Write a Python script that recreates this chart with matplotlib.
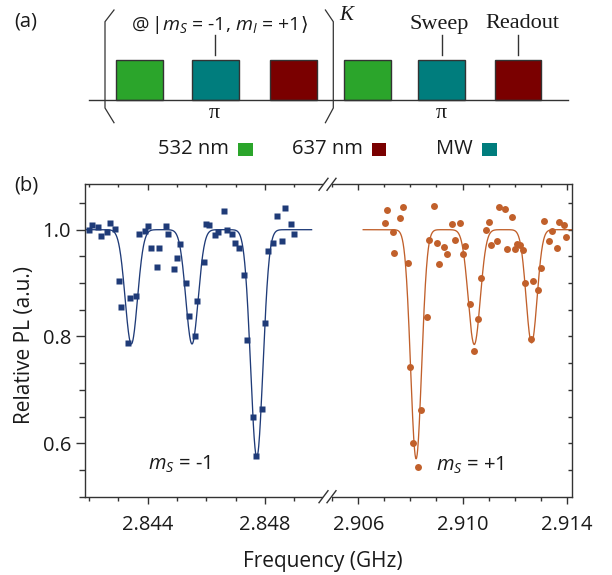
import numpy as np
import matplotlib
matplotlib.use('Agg')
import matplotlib.pyplot as plt
from matplotlib.patches import Rectangle

plt.rcParams['font.family'] = ['Open Sans', 'DejaVu Sans']
plt.rcParams['mathtext.fontset'] = 'custom'
plt.rcParams['mathtext.rm'] = 'Open Sans'
plt.rcParams['mathtext.it'] = 'Open Sans:italic'
plt.rcParams['mathtext.bf'] = 'Open Sans:bold'

# ms = -1 branch (squares)
freq_minus = [2.84199, 2.84210, 2.84231, 2.84242, 2.84261, 2.84270, 2.84289, 2.84301,
              2.84310, 2.84331, 2.84340, 2.84359, 2.84371, 2.84389, 2.84400, 2.84410,
              2.84431, 2.84440, 2.84461, 2.84470, 2.84489, 2.84501, 2.84511, 2.84530,
              2.84540, 2.84560, 2.84569, 2.84591, 2.84599, 2.84610, 2.84629, 2.84640,
              2.84659, 2.84670, 2.84689, 2.84699, 2.84710, 2.84730, 2.84740, 2.84759,
              2.84769, 2.84790, 2.84799, 2.84809, 2.84829, 2.84840, 2.84859, 2.84869,
              2.84889, 2.84899]
pl_minus = [0.999, 1.009, 1.005, 0.988, 0.996, 1.013, 1.002, 0.903,
            0.856, 0.788, 0.872, 0.876, 0.992, 0.997, 1.006, 0.965,
            0.931, 0.965, 1.006, 0.991, 0.927, 0.947, 0.974, 0.900,
            0.838, 0.800, 0.867, 0.940, 1.011, 1.008, 0.990, 0.996,
            1.035, 0.999, 0.992, 0.975, 0.965, 0.915, 0.793, 0.650,
            0.577, 0.664, 0.825, 0.960, 0.975, 1.026, 0.978, 1.040,
            1.011, 0.991]

# ms = +1 branch (circles)
freq_plus = [2.90701, 2.90710, 2.90732, 2.90739, 2.90761, 2.90770, 2.90792, 2.90800,
             2.90810, 2.90831, 2.90841, 2.90862, 2.90870, 2.90889, 2.90902, 2.90911,
             2.90930, 2.90942, 2.90960, 2.90972, 2.90991, 2.91001, 2.91010, 2.91030,
             2.91043, 2.91061, 2.91070, 2.91090, 2.91101, 2.91111, 2.91133, 2.91141,
             2.91164, 2.91169, 2.91191, 2.91203, 2.91210, 2.91222, 2.91232, 2.91241,
             2.91262, 2.91270, 2.91290, 2.91301, 2.91311, 2.91332, 2.91342, 2.91361,
             2.91372, 2.91388, 2.91397]
pl_plus = [1.013, 1.036, 0.995, 0.956, 1.021, 1.043, 0.937, 0.743,
           0.601, 0.556, 0.662, 0.836, 0.981, 1.045, 0.975, 0.936,
           0.967, 0.955, 1.011, 0.981, 1.013, 0.955, 0.970, 0.860,
           0.772, 0.833, 0.910, 1.000, 1.014, 0.972, 0.978, 1.043,
           1.038, 0.964, 1.023, 0.964, 0.973, 0.971, 0.962, 0.901,
           0.796, 0.904, 0.888, 0.928, 1.017, 0.979, 0.997, 0.966,
           1.014, 1.009, 0.986]

# fitted hyperfine dips: centre (GHz), depth, gaussian width (GHz)
fit_minus_center = [2.84344, 2.84551, 2.84772]
fit_minus_depth = [0.214, 0.214, 0.426]
fit_minus_sigma = [0.00021, 0.00021, 0.00021]
fit_plus_center = [2.90822, 2.91045, 2.91265]
fit_plus_depth = [0.429, 0.215, 0.212]
fit_plus_sigma = [0.00021, 0.00023, 0.00021]

xticks_minus = [2.844, 2.848]
xticks_plus = [2.906, 2.910, 2.914]
yticks = [0.6, 0.8, 1.0]

BLUE = '#1f3b78'
ORANGE = '#c1602b'
GREEN = '#2ba52b'
TEAL = '#007d7d'
DARKRED = '#7a0000'
INK = '#1a1a1a'
LINE = '#333333'


def dips(f, centers, depths, sigmas):
    y = np.ones_like(f)
    for c, d, s in zip(centers, depths, sigmas):
        y -= d * np.exp(-0.5 * ((f - c) / s) ** 2)
    return y


W, H = 612, 575
fig = plt.figure(figsize=(W / 100, H / 100), dpi=100)

# two halves of the broken frequency axis (pixel layout)
left, split, right = 85.3, 328, 572
top, bottom = 184.3, 496.7
ax1 = fig.add_axes([left / W, 1 - bottom / H, (split - left) / W, (bottom - top) / H])
ax2 = fig.add_axes([split / W, 1 - bottom / H, (right - split) / W, (bottom - top) / H])

f1 = np.linspace(2.8418, 2.84959, 800)
ax1.plot(f1, dips(f1, fit_minus_center, fit_minus_depth, fit_minus_sigma),
         color=BLUE, lw=0.95, zorder=2)
ax1.plot(freq_minus, pl_minus, 's', color=BLUE, ms=4.3, mec='none', zorder=3)

f2 = np.linspace(2.90619, 2.9143, 800)
ax2.plot(f2, dips(f2, fit_plus_center, fit_plus_depth, fit_plus_sigma),
         color=ORANGE, lw=0.95, zorder=2)
ax2.plot(freq_plus, pl_plus, 'o', color=ORANGE, ms=5.0, mec='none', zorder=3)

ax1.set_xlim(2.84187, 2.85015)
ax2.set_xlim(2.90484, 2.91420)
for ax in (ax1, ax2):
    ax.set_ylim(0.5, 1.085)
    for sp in ax.spines.values():
        sp.set_color(LINE)
        sp.set_linewidth(1.0)
ax1.spines['right'].set_visible(False)
ax2.spines['left'].set_visible(False)

# bottom / left ticks point outward
ax1.set_xticks(xticks_minus)
ax1.set_xticklabels(['%.3f' % t for t in xticks_minus])
ax1.set_xticks(np.arange(2.842, 2.8495, 0.001), minor=True)
ax2.set_xticks(xticks_plus)
ax2.set_xticklabels(['%.3f' % t for t in xticks_plus])
ax2.set_xticks(np.arange(2.905, 2.9142, 0.001), minor=True)
ax1.set_yticks(yticks)
ax1.set_yticklabels(['%.1f' % t for t in yticks])
ax1.set_yticks(np.arange(0.5, 1.08, 0.05), minor=True)
ax2.set_yticks([])
for ax in (ax1, ax2):
    ax.tick_params(axis='x', which='major', direction='out', length=5, width=1.0,
                   color=LINE, labelsize=14.5, labelcolor=INK, pad=8)
    ax.tick_params(axis='x', which='minor', direction='out', length=2.8, width=1.0, color=LINE)
ax1.tick_params(axis='y', which='major', direction='out', length=6.2, width=1.0,
                color=LINE, labelsize=14.5, labelcolor=INK, pad=4)
ax1.tick_params(axis='y', which='minor', direction='out', length=4.2, width=1.0, color=LINE)

# top / right ticks point inward
for ax, lo, hi, majors in ((ax1, 2.842, 2.8495, xticks_minus), (ax2, 2.905, 2.9142, xticks_plus)):
    sec = ax.secondary_xaxis('top')
    sec.set_xticks(majors)
    sec.set_xticklabels([])
    sec.set_xticks(np.arange(lo, hi, 0.001), minor=True)
    sec.tick_params(which='major', direction='in', length=4.5, width=1.0, color=LINE)
    sec.tick_params(which='minor', direction='in', length=2.3, width=1.0, color=LINE)
    sec.spines['top'].set_visible(False)
secy = ax2.secondary_yaxis('right')
secy.set_yticks(np.arange(0.55, 1.08, 0.05))
secy.set_yticklabels([])
secy.tick_params(direction='in', length=3, width=1.0, color=LINE)
secy.spines['right'].set_visible(False)

ax1.text(2.8440, 0.56, r'$m_S$ = -1', fontsize=14.5, color=INK, va='center', ha='left')
ax2.text(2.90899, 0.558, r'$m_S$ = +1', fontsize=14.5, color=INK, va='center', ha='left')

# overlay in pixel coordinates for the pulse scheme, labels and break marks
ov = fig.add_axes([0, 0, 1, 1])
ov.set_xlim(0, W)
ov.set_ylim(H, 0)
ov.set_axis_off()

ov.text(14, 21, '(a)', fontsize=14.5, color=INK, va='center', ha='left')
ov.text(14, 186, '(b)', fontsize=14.5, color=INK, va='center', ha='left')
ov.text(25, 345, 'Relative PL (a.u.)', fontsize=15, color=INK, rotation=90,
        va='center', ha='center')
ov.text(322.5, 561, 'Frequency (GHz)', fontsize=15, color=INK, va='center', ha='center')

# pulse sequence
pulse_x = [116, 192.4, 270.3, 344.3, 418.4, 494.7]
pulse_c = [GREEN, TEAL, DARKRED, GREEN, TEAL, DARKRED]
ov.plot([89.2, 567.6], [100.3, 100.3], color=LINE, lw=1.0)
for x0, c in zip(pulse_x, pulse_c):
    ov.add_patch(Rectangle((x0, 60.3), 46.5, 40, facecolor=c, edgecolor=LINE, lw=1.0))

for xs in ([114, 105, 105, 114], [325.4, 333.3, 333.3, 325.4]):
    ov.plot(xs, [10, 21.7, 108, 122.7], color=LINE, lw=0.9)

ov.text(131, 25, r'@$\,|m_S$ = -1, $m_I$ = +1', fontsize=14, color=INK,
        va='center', ha='left')
ov.text(308, 24, '\u27e9', fontsize=14, family='DejaVu Sans', color=INK,
        va='center', ha='right')
ov.text(339, 15, 'K', fontsize=15, family='Liberation Serif', style='italic',
        color=INK, va='center', ha='left')
for xl in (214.8, 441.6, 517.5):
    ov.plot([xl, xl], [35, 55], color=LINE, lw=1.0)
ov.text(439.6, 24, 'Sweep', fontsize=16, family='Liberation Serif', color=INK,
        va='center', ha='center')
ov.text(522.3, 24, 'Readout', fontsize=16, family='Liberation Serif', color=INK,
        va='center', ha='center')
for xp in (214.4, 441.6):
    ov.text(xp, 114, 'π', fontsize=16, family='Liberation Serif', color=INK,
            va='center', ha='center')

# colour key
for label, xr, c in (('532 nm', 229, GREEN), ('637 nm', 362.8, DARKRED), ('MW', 473, TEAL)):
    ov.text(xr, 149, label, fontsize=14.5, color=INK, va='center', ha='right')
    ov.add_patch(Rectangle((xr + 9, 142.5), 14.5, 13.5, facecolor=c, edgecolor='none'))

# axis break marks
for yb in (top, bottom):
    ov.add_patch(Rectangle((split - 5, yb - 2), 9, 4, facecolor='white', edgecolor='none'))
    for dx in (-4.5, 3.5):
        ov.plot([split + dx - 4.5, split + dx + 4.5], [yb + 6, yb - 6], color=LINE, lw=1.0)

fig.savefig('out.png', dpi=100)
